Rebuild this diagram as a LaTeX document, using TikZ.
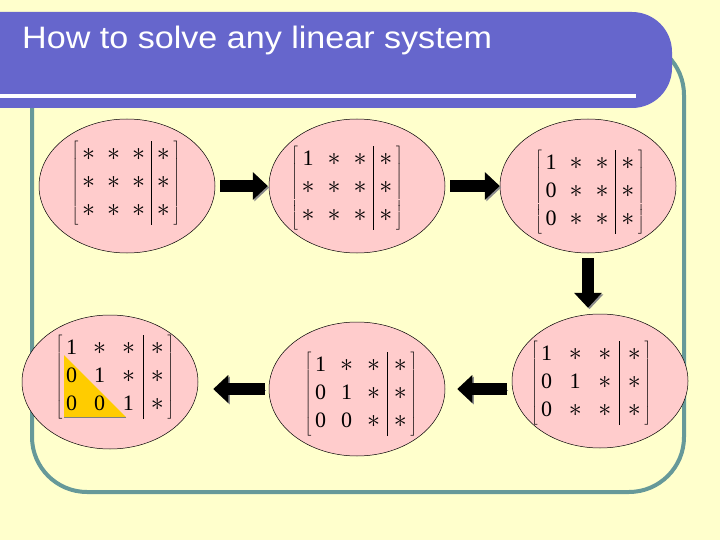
\documentclass[tikz,border=0pt]{standalone}
\usepackage{fontspec}
\setmainfont{Liberation Serif}
\newfontfamily\titlefont{Liberation Sans}
\usepackage{graphicx}
\usetikzlibrary{positioning,arrows.meta,calc,shapes.geometric}
\definecolor{paper}{RGB}{255,255,204}
\definecolor{bandblue}{RGB}{102,102,204}
\definecolor{frameteal}{RGB}{102,153,153}
\definecolor{ellpink}{RGB}{255,204,204}
\definecolor{trigold}{RGB}{255,204,0}
\newcommand{\astr}{\scalebox{1.25}{$\ast$}}
\newcommand{\augm}[3]{$\left[\begin{tabular}{@{\,}ccc|c@{\,}}#1\\ #2\\ #3\end{tabular}\right]$}

\begin{document}
\begin{tikzpicture}[x=1pt,y=-1pt,
    blob/.style={ellipse,draw=black,line width=0.5pt,fill=ellpink,minimum width=176pt,minimum height=134pt,inner sep=0pt},
    mat/.style={inner sep=0pt,font=\fontsize{22}{28}\selectfont\setlength{\tabcolsep}{#1}},
    mat/.default=6.5pt,
    flow/.style={line width=12pt,-{Triangle[width=27pt,length=15pt]},
        preaction={draw=black!45,transform canvas={shift={(1.5,1.5)}}}}]
    \useasboundingbox (0,0) rectangle (720,540);
    \fill[paper] (0,0) rectangle (720,540);
    % frame and title band
    \draw[frameteal,line width=4pt,rounded corners=55pt] (32,40) rectangle (684,492);
    \fill[bandblue,rounded corners=40pt] (-60,12) rectangle (672,108);
    \fill[white] (0,94) rectangle (636,98);
    \node[anchor=base west,inner sep=0pt,text=white,font=\titlefont\fontsize{31}{31}\selectfont] (title) at (22,49)
        {\scalebox{1.1}[1]{How to solve any linear system}};
    % the six stages
    \node[blob] (e1) at (127,186) {};
    \node[blob] (e2) at (357,186) {};
    \node[blob] (e3) at (588,186) {};
    \node[blob] (e4) at (600,381) {};
    \node[blob] (e5) at (357,389) {};
    \node[blob] (e6) at (110,382) {};
    \fill[trigold] (64,355) -- (64,417) -- (126,417) -- cycle;
    \draw[gray,line width=0.8pt] (64,417) -- (126,417);
    \node[mat=6pt] (m1) at ($(e1)+(-1,-3)$)
        {\augm{\astr & \astr & \astr & \astr}{\astr & \astr & \astr & \astr}{\astr & \astr & \astr & \astr}};
    \node[mat] (m2) at ($(e2)+(-10,2)$)
        {\augm{1 & \astr & \astr & \astr}{\astr & \astr & \astr & \astr}{\astr & \astr & \astr & \astr}};
    \node[mat] (m3) at ($(e3)+(2,6)$)
        {\augm{1 & \astr & \astr & \astr}{0 & \astr & \astr & \astr}{0 & \astr & \astr & \astr}};
    \node[mat=8.3pt] (m4) at ($(e4)+(-9,2)$)
        {\augm{1 & \astr & \astr & \astr}{0 & 1 & \astr & \astr}{0 & \astr & \astr & \astr}};
    \node[mat=7pt] (m5) at ($(e5)+(4,5)$)
        {\augm{1 & \astr & \astr & \astr}{0 & 1 & \astr & \astr}{0 & 0 & \astr & \astr}};
    \node[mat=8pt] (m6) at ($(e6)+(5,-5)$)
        {\augm{1 & \astr & \astr & \astr}{0 & 1 & \astr & \astr}{0 & 0 & 1 & \astr}};
    % arrows between stages
    \draw[flow,shorten <=5pt,shorten >=1pt] (e1.east) -- (e2.west);
    \draw[flow,shorten <=5pt] (e2.east) -- (e3.west);
    \draw[flow,shorten <=5pt,shorten >=6pt] (e3.south) -- (e3.south |- e4.north);
    \draw[flow,shorten <=5pt,shorten >=12pt] (e4.west |- e5) -- (e5.east);
    \draw[flow,shorten <=4pt,shorten >=15pt] (e5.west) -- (e5.west -| e6.east);
\end{tikzpicture}
\end{document}
